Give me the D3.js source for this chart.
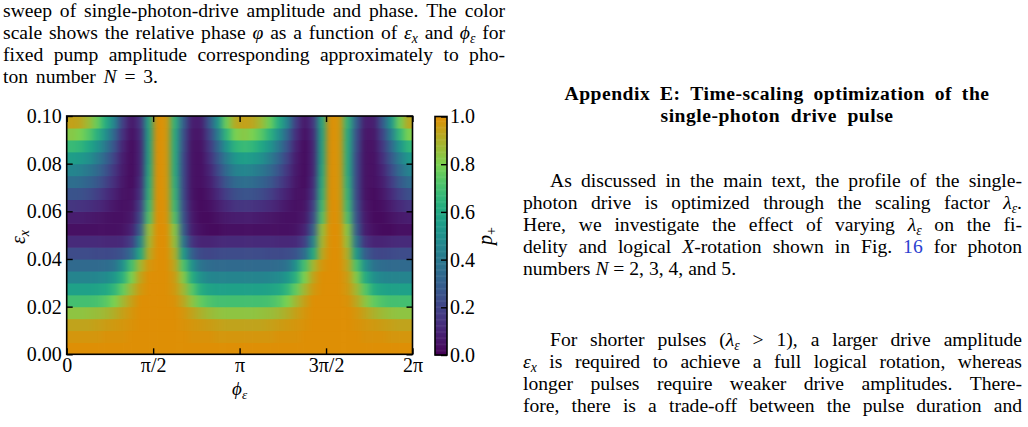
<!DOCTYPE html>
<head>
<meta charset="utf-8">
<script src="https://d3js.org/d3.v7.min.js"></script>
<style>
  body { margin: 0; background: #fff; }
  svg { display: block; }
  text { font-family: "Liberation Serif", "Times New Roman", serif; fill: #000; }
</style>
</head>
<body>
<svg width="1028" height="427"></svg>
<script>
// ---- data ----
// eps_x rows: 20 bands of 0.005, bottom (0.000) to top (0.100)
var epsStep = 0.005;
// phi columns: 20 cells of pi/20 over one period [0, pi); the map repeats every pi
var phiStep = Math.PI / 20;
var pPlus = [
  [1, 1, 1, 1, 1, 1, 1, 1, 1, 1, 1, 1, 1, 1, 1, 1, 1, 1, 1, 1],
  [.98, .98, .98, .98, .99, .99, .99, 1, 1, 1, 1, 1, 1, 1, .99, .99, .99, .98, .98, .98],
  [.94, .94, .94, .95, .96, .97, .98, .99, 1, 1, 1, 1, 1, .99, .98, .97, .96, .95, .94, .94],
  [.84, .84, .85, .86, .88, .91, .95, .98, 1, 1, 1, 1, 1, .98, .94, .9, .87, .85, .84, .84],
  [.7, .7, .7, .71, .74, .8, .88, .95, 1, 1, 1, 1, .99, .93, .84, .76, .72, .7, .7, .7],
  [.57, .57, .57, .58, .6, .66, .76, .88, .97, 1, 1, 1, .97, .88, .74, .62, .58, .57, .57, .57],
  [.45, .45, .45, .46, .48, .53, .64, .8, .94, 1, 1, 1, .96, .82, .62, .5, .46, .45, .45, .45],
  [.34, .34, .34, .34, .35, .38, .5, .7, .88, .98, 1, 1, .93, .72, .5, .38, .35, .34, .34, .34],
  [.23, .23, .23, .22, .22, .23, .26, .35, .6, .92, 1, 1, .9, .55, .3, .22, .21, .22, .23, .23],
  [.12, .12, .12, .12, .11, .11, .12, .18, .45, .88, 1, 1, .85, .4, .15, .1, .1, .11, .12, .12],
  [.04, .04, .04, .04, .04, .04, .05, .09, .3, .85, 1, 1, .82, .3, .08, .04, .03, .03, .04, .04],
  [.08, .08, .07, .06, .05, .04, .04, .06, .22, .72, 1, .99, .72, .26, .07, .03, .03, .05, .07, .08],
  [.16, .15, .14, .12, .09, .06, .04, .05, .18, .68, 1, .99, .68, .24, .06, .03, .04, .08, .12, .15],
  [.26, .25, .23, .19, .14, .09, .05, .04, .14, .64, 1, .98, .66, .22, .05, .03, .06, .12, .19, .24],
  [.36, .35, .32, .27, .2, .13, .06, .03, .12, .62, 1, .98, .64, .22, .05, .04, .08, .17, .27, .34],
  [.46, .44, .4, .34, .26, .16, .07, .03, .1, .6, 1, .98, .62, .22, .05, .04, .1, .22, .35, .44],
  [.56, .54, .5, .42, .32, .2, .08, .03, .1, .58, 1, .98, .62, .22, .05, .04, .13, .27, .42, .53],
  [.68, .66, .6, .52, .4, .26, .1, .03, .1, .58, 1, .98, .62, .24, .05, .05, .16, .33, .52, .65],
  [.83, .8, .74, .64, .5, .33, .14, .04, .12, .58, 1, .98, .62, .25, .06, .06, .2, .42, .66, .8],
  [.95, .93, .87, .77, .62, .45, .18, .06, .15, .6, 1, .98, .65, .3, .08, .08, .27, .52, .78, .92]
];
var phiTicks = [0, Math.PI / 2, Math.PI, 3 * Math.PI / 2, 2 * Math.PI];
var phiLabels = ["0", "π/2", "π", "3π/2", "2π"];
var epsTicks = [0, 0.02, 0.04, 0.06, 0.08, 0.10];
var cbTicks = [0, 0.2, 0.4, 0.6, 0.8, 1.0];

// page text around the figure
var blue = "#2b3fd0";
var lamEps = {t: "λ", i: 1, sub: "ε"};
var epsX = {t: "ε", i: 1, sub: "x"};
var caption = [
  ["sweep of single-photon-drive amplitude and phase. The color"],
  ["scale shows the relative phase ", {t: "φ", i: 1}, " as a function of ", epsX, " and ", {t: "ϕ", i: 1, sub: "ε"}, " for"],
  ["fixed pump amplitude corresponding approximately to pho-"],
  ["ton number ", {t: "N", i: 1}, " = 3."]
];
var heading = ["Appendix E: Time-scaling optimization of the", "single-photon drive pulse"];
var para1 = [
  ["As discussed in the main text, the profile of the single-"],
  ["photon drive is optimized through the scaling factor ", lamEps, "."],
  ["Here, we investigate the effect of varying ", lamEps, " on the fi-"],
  ["delity and logical ", {t: "X", i: 1}, "-rotation shown in Fig. ", {t: "16", c: blue}, " for photon"],
  ["numbers ", {t: "N", i: 1}, " = 2, 3, 4, and 5."]
];
var para2 = [
  ["For shorter pulses (", lamEps, " > 1), a larger drive amplitude"],
  [epsX, " is required to achieve a full logical rotation, whereas"],
  ["longer pulses require weaker drive amplitudes. There-"],
  ["fore, there is a trade-off between the pulse duration and"]
];

var svg = d3.select("svg");
svg.append("rect").attr("width", 1028).attr("height", 427).attr("fill", "#fff");

// viridis up to 0.8, then running into orange at 1.0
var orange = "#de8f05";
function cmap(v) {
  if (v <= 0.8) return d3.interpolateViridis(v);
  return d3.interpolateRgb(d3.interpolateViridis(0.8), orange)((v - 0.8) / 0.2);
}

var x = d3.scaleLinear().domain([0, 2 * Math.PI]).range([66.7, 412.5]);
var y = d3.scaleLinear().domain([0, 0.1]).range([354.3, 116]);

// heatmap cells (periods -1..2 drawn so the smoothing has neighbours at the edges, then clipped)
var cells = [];
pPlus.forEach(function (row, k) {
  [-1, 0, 1, 2].forEach(function (half) {
    row.forEach(function (v, j) {
      cells.push({e0: k * epsStep, p0: half * Math.PI + j * phiStep, v: v});
    });
  });
});

var defs = svg.append("defs");
defs.append("clipPath").attr("id", "plotclip").append("rect")
  .attr("x", x(0)).attr("y", y(0.1)).attr("width", x(2 * Math.PI) - x(0)).attr("height", y(0) - y(0.1));
defs.append("filter").attr("id", "hblur")
  .attr("filterUnits", "userSpaceOnUse").attr("x", -200).attr("y", 90).attr("width", 800).attr("height", 300)
  .attr("color-interpolation-filters", "sRGB")
  .append("feGaussianBlur").attr("stdDeviation", "3 0");

svg.append("g").attr("clip-path", "url(#plotclip)")
  .append("g").attr("filter", "url(#hblur)")
  .selectAll("rect").data(cells).join("rect")
  .attr("x", d => x(d.p0))
  .attr("y", d => y(d.e0 + epsStep))
  .attr("width", d => x(d.p0 + phiStep) - x(d.p0) + 0.6)
  .attr("height", d => y(d.e0) - y(d.e0 + epsStep) + 0.6)
  .attr("fill", d => cmap(d.v));

// axes (ticks inward on all four sides)
function styleAxis(g) {
  g.attr("font-family", null).attr("font-size", null);
  g.select(".domain").remove();
  g.selectAll(".tick line").attr("stroke", "#000").attr("stroke-width", 1.4);
  g.selectAll(".tick text").style("font-size", "20px");
}
svg.append("g").attr("transform", "translate(0," + y(0) + ")")
  .call(d3.axisBottom(x).tickValues(phiTicks).tickFormat((d, i) => phiLabels[i]).tickSizeInner(-6).tickSizeOuter(0).tickPadding(4))
  .call(styleAxis);
svg.append("g").attr("transform", "translate(0," + y(0.1) + ")")
  .call(d3.axisTop(x).tickValues(phiTicks).tickFormat("").tickSizeInner(-6).tickSizeOuter(0))
  .call(styleAxis);
svg.append("g").attr("transform", "translate(" + x(0) + ",0)")
  .call(d3.axisLeft(y).tickValues(epsTicks).tickFormat(d3.format(".2f")).tickSizeInner(-6).tickSizeOuter(0).tickPadding(5))
  .call(styleAxis);
svg.append("g").attr("transform", "translate(" + x(2 * Math.PI) + ",0)")
  .call(d3.axisRight(y).tickValues(epsTicks).tickFormat("").tickSizeInner(-6).tickSizeOuter(0))
  .call(styleAxis);
svg.append("rect")
  .attr("x", x(0)).attr("y", y(0.1)).attr("width", x(2 * Math.PI) - x(0)).attr("height", y(0) - y(0.1))
  .attr("fill", "none").attr("stroke", "#000").attr("stroke-width", 1.6);

// colorbar
var cb = d3.scaleLinear().domain([0, 1]).range([355, 116.5]);
var cbX = 435, cbW = 12;
svg.append("g").selectAll("rect").data(d3.range(0, 1, 0.005)).join("rect")
  .attr("x", cbX).attr("width", cbW)
  .attr("y", d => cb(d + 0.005)).attr("height", d => cb(d) - cb(d + 0.005) + 0.5)
  .attr("fill", d => cmap(d + 0.0025));
svg.append("g").attr("transform", "translate(" + (cbX + cbW) + ",0)")
  .call(d3.axisRight(cb).tickValues(cbTicks).tickFormat(d3.format(".1f")).tickSizeInner(-6).tickSizeOuter(0).tickPadding(3))
  .call(styleAxis);
svg.append("rect").attr("x", cbX).attr("y", cb(1)).attr("width", cbW).attr("height", cb(0) - cb(1))
  .attr("fill", "none").attr("stroke", "#000").attr("stroke-width", 1.6);

// text helper: a line is cut into words, each word into styled pieces, and every
// piece becomes its own <text>; words are spread over o.len like TeX justification
function textLine(g, px, py, parts, o) {
  var words = [[]];
  parts.forEach(function (p) {
    if (typeof p === "string") {
      p.split(" ").forEach(function (w, k) {
        if (k > 0) words.push([]);
        if (w) words[words.length - 1].push({t: w});
      });
    } else {
      var cur = words[words.length - 1];
      cur.push({t: p.t, i: p.i, c: p.c});
      if (p.sub) cur.push({t: p.sub, sub: 1, i: /[a-zA-Zα-ω]/.test(p.sub)});
    }
  });
  words = words.filter(w => w.length);

  var box = g.append("g");
  if (o.rotate) box.attr("transform", "rotate(-90," + px + "," + py + ")");
  var widths = words.map(function (w) {
    var tot = 0;
    w.forEach(function (s) {
      var el = box.append("text").attr("y", py + (s.sub ? o.size * 0.2 : 0))
        .style("font-size", (s.sub ? o.size * 0.7 : o.size) + "px").text(s.t);
      if (s.i) el.style("font-style", "italic");
      if (o.bold) el.style("font-weight", "bold").style("letter-spacing", "0.5px");
      if (s.c) el.style("fill", s.c);
      s.el = el;
      s.w = el.node().getComputedTextLength();
      tot += s.w;
    });
    return tot;
  });
  var sumW = d3.sum(widths);
  var gap = (o.len && words.length > 1) ? (o.len - sumW) / (words.length - 1) : o.size * 0.25;
  var total = sumW + gap * (words.length - 1);
  var cx = o.anchor === "middle" ? px - total / 2 : px;
  words.forEach(function (w) {
    w.forEach(function (s) { s.el.attr("x", cx.toFixed(2)); cx += s.w; });
    cx += gap;
  });
}

// axis labels
textLine(svg, 239.6, 395, [{t: "ϕ", i: 1, sub: "ε"}], {size: 19, anchor: "middle"});
textLine(svg, 25, 237, [{t: "ε", i: 1, sub: "x"}], {size: 20, anchor: "middle", rotate: 1});
textLine(svg, 492, 236, [{t: "p", i: 1, sub: "+"}], {size: 20, anchor: "middle", rotate: 1});

// body text size kept just under the 22px line pitch
var fs = 19.6;

// caption (left column, justified)
var capLen = [502, 502, 502, 155];
caption.forEach(function (ln, i) {
  textLine(svg, 3, 17 + i * 22, ln, {size: fs, len: capLen[i]});
});

// appendix heading
textLine(svg, 777, 99.5, [heading[0]], {size: fs, bold: 1, anchor: "middle", len: 425});
textLine(svg, 777, 121.5, [heading[1]], {size: fs, bold: 1, anchor: "middle", len: 233});

// right column paragraphs
var colL = 523, colR = 1022, indent = 27;
para1.forEach(function (ln, i) {
  var px = i === 0 ? colL + indent : colL;
  textLine(svg, px, 187 + i * 22, ln, {size: fs, len: i < 4 ? colR - px : 0});
});
para2.forEach(function (ln, i) {
  var px = i === 0 ? colL + indent : colL;
  textLine(svg, px, 346 + i * 22, ln, {size: fs, len: colR - px});
});
</script>
</body>
